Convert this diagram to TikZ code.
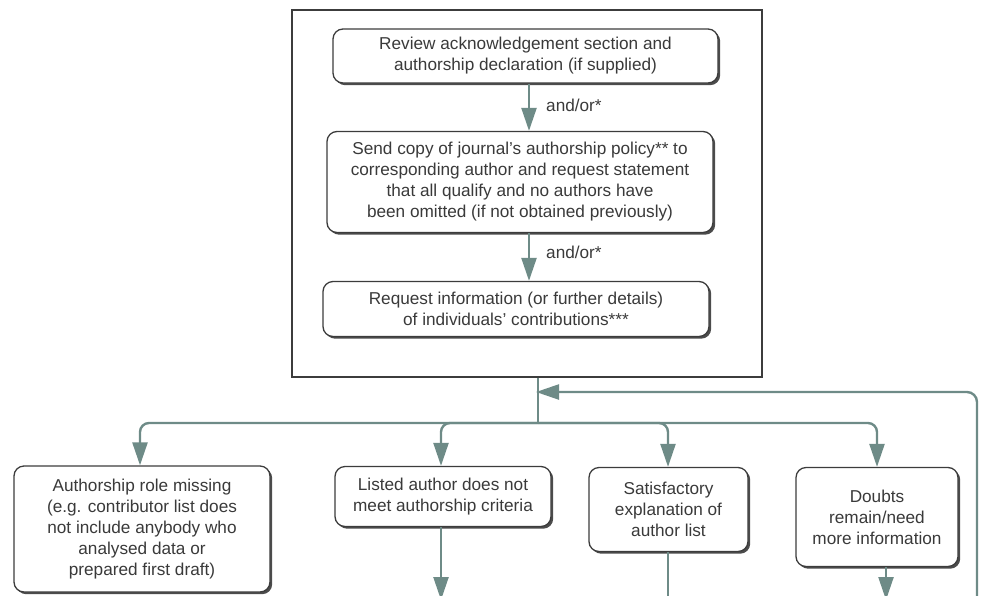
\documentclass[tikz,border=0pt]{standalone}
\usepackage{fontspec}
\setmainfont{Liberation Sans}
\usetikzlibrary{arrows.meta,shadows,calc}
\definecolor{linecol}{HTML}{6E8B87}
\definecolor{boxcol}{HTML}{3C3C3C}
\definecolor{txtcol}{HTML}{3A3A3A}
\begin{document}
\begin{tikzpicture}[x=1pt,y=-1pt,
  box/.style={draw=boxcol, line width=1.3pt, rounded corners=10pt, fill=white,
    align=center, inner sep=0pt, text=txtcol,
    font=\fontsize{17.2}{21}\selectfont,
    drop shadow={shadow xshift=2.2pt, shadow yshift=-2.2pt, fill=black!70, opacity=1}},
  conn/.style={draw=linecol, line width=2.4pt},
  arr/.style={conn, -{Triangle[length=23pt,width=15pt]}},
  lbl/.style={anchor=west, inner sep=0pt, text=txtcol, font=\fontsize{17.2}{21}\selectfont}]
\useasboundingbox (0,0) rectangle (982,595);
% outer frame
\node[draw=boxcol, line width=1.3pt, minimum width=470pt, minimum height=367pt, inner sep=0pt] (outer) at (527,193.5) {};
% top boxes
\node[box, minimum width=385pt, minimum height=54pt] (b1) at (525.5,56) {Review acknowledgement section and\\authorship declaration (if supplied)};
\node[box, minimum width=386pt, minimum height=101pt] (b2) at (520,182) {Send copy of journal’s authorship policy** to\\corresponding author and request statement\\that all qualify and no authors have\\been omitted (if not obtained previously)};
\node[box, minimum width=386pt, minimum height=55pt] (b3) at (516,309) {Request information (or further details)\\of individuals’ contributions***};
\coordinate (ca) at (529,0);
\draw[arr] (b1.south -| ca) -- (b2.north -| ca) node[lbl, pos=0.45, xshift=16pt] (l1) {and/or*};
\draw[arr] (b2.south -| ca) -- (b3.north -| ca) node[lbl, pos=0.4, xshift=16pt] (l2) {and/or*};
% bottom boxes
\node[box, minimum width=256pt, minimum height=126pt] (bA) at (142,529) {Authorship role missing\\(e.g. contributor list does\\not include anybody who\\analysed data or\\prepared first draft)};
\node[box, minimum width=216pt, minimum height=60pt] (bB) at (443,496.5) {Listed author does not\\meet authorship criteria};
\node[box, minimum width=159pt, minimum height=84pt] (bC) at (668.5,509.5) {Satisfactory\\explanation of\\author list};
\node[box, minimum width=162pt, minimum height=99pt] (bD) at (877,517) {Doubts\\remain/need\\more information};
% splitter
\coordinate (split) at (538,423);
\draw[conn] (outer.south -| split) -- (split);
\coordinate (xa) at (140,0);
\coordinate (xb) at (441,0);
\coordinate (xc) at (668,0);
\coordinate (xd) at (877,0);
\draw[arr, rounded corners=9pt] (split) -| (bA.north -| xa);
\draw[arr, rounded corners=9pt] (split) -| (bB.north -| xb);
\draw[arr, rounded corners=9pt] (split) -| (bC.north -| xc);
\draw[arr, rounded corners=9pt] (split) -| (bD.north -| xd);
% feedback loop
\coordinate (fbstart) at (977,600);
\coordinate (fbend) at (536,392);
\draw[arr, rounded corners=10pt] (fbstart) |- (fbend);
% outgoing below
\coordinate (outB) at (441,600);
\coordinate (outC) at (668,600);
\coordinate (outD) at (886,600);
\draw[arr] (bB.south -| outB) -- (outB);
\draw[conn] (bC.south -| outC) -- (outC);
\draw[arr] (bD.south -| outD) -- (outD);
\end{tikzpicture}
\end{document}
